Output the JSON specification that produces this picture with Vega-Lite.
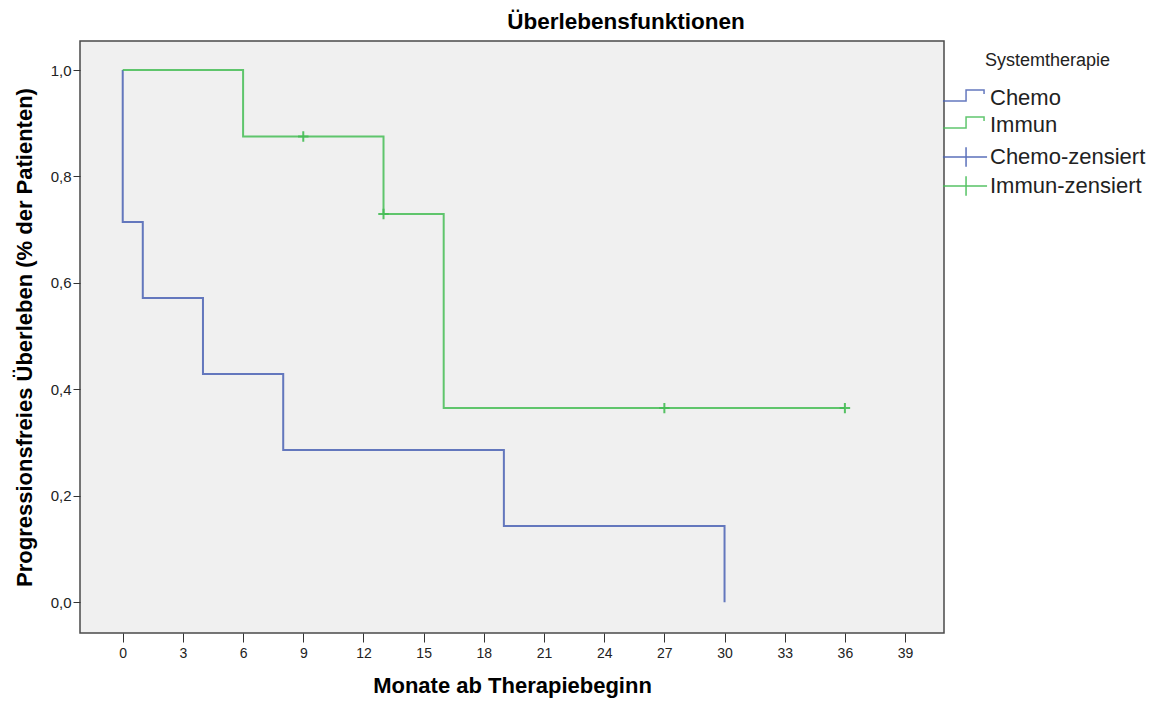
{
  "$schema": "https://vega.github.io/schema/vega-lite/v6.json",
  "autosize": "none",
  "width": 864,
  "height": 592,
  "padding": {"left": 80, "top": 41, "right": 213, "bottom": 69},
  "background": "white",
  "config": {
    "font": "Liberation Sans",
    "view": {"fill": "#f0f0f0", "stroke": "#4a4a4a", "strokeWidth": 1.5},
    "axis": {"grid": false, "domain": false, "tickColor": "#333333", "labelColor": "#222222", "titleColor": "#000000", "labelFont": "Liberation Sans", "titleFont": "Liberation Sans"},
    "legend": {
      "titleFont": "Liberation Sans",
      "titleFontSize": 18,
      "titleFontWeight": "normal",
      "titleColor": "#222222",
      "labelFont": "Liberation Sans",
      "labelFontSize": 22,
      "labelColor": "#222222",
      "labelOffset": -27,
      "symbolSize": 900,
      "symbolStrokeWidth": 1.5,
      "symbolFillColor": "transparent",
      "rowPadding": 0
    }
  },
  "title": {
    "text": "Überlebensfunktionen",
    "fontSize": 22.5,
    "fontWeight": "bold",
    "font": "Liberation Sans",
    "color": "#000000",
    "anchor": "middle",
    "dx": 114,
    "offset": 8
  },
  "datasets": {
    "curves": [
      {"entry": "Chemo", "i": 0, "monat": 0, "ueberleben": 1.0},
      {"entry": "Chemo", "i": 1, "monat": 0, "ueberleben": 0.7143},
      {"entry": "Chemo", "i": 2, "monat": 1, "ueberleben": 0.5714},
      {"entry": "Chemo", "i": 3, "monat": 4, "ueberleben": 0.4286},
      {"entry": "Chemo", "i": 4, "monat": 8, "ueberleben": 0.2857},
      {"entry": "Chemo", "i": 5, "monat": 19, "ueberleben": 0.1429},
      {"entry": "Chemo", "i": 6, "monat": 30, "ueberleben": 0.0},
      {"entry": "Immun", "i": 0, "monat": 0, "ueberleben": 1.0},
      {"entry": "Immun", "i": 1, "monat": 6, "ueberleben": 0.875},
      {"entry": "Immun", "i": 2, "monat": 13, "ueberleben": 0.7292},
      {"entry": "Immun", "i": 3, "monat": 16, "ueberleben": 0.3646},
      {"entry": "Immun", "i": 4, "monat": 36, "ueberleben": 0.3646}
    ],
    "censored": [
      {"entry": "Immun-zensiert", "monat": 9, "ueberleben": 0.875},
      {"entry": "Immun-zensiert", "monat": 13, "ueberleben": 0.7292},
      {"entry": "Immun-zensiert", "monat": 27, "ueberleben": 0.3646},
      {"entry": "Immun-zensiert", "monat": 36, "ueberleben": 0.3646}
    ]
  },
  "encoding": {
    "x": {
      "field": "monat",
      "type": "quantitative",
      "scale": {"domain": [-2.13, 40.94], "nice": false, "zero": false},
      "axis": {
        "title": "Monate ab Therapiebeginn",
        "values": [0, 3, 6, 9, 12, 15, 18, 21, 24, 27, 30, 33, 36, 39],
        "tickSize": 9,
        "labelPadding": 4,
        "labelFontSize": 14,
        "titleFontSize": 22,
        "titleFontWeight": "bold",
        "titlePadding": 15
      }
    },
    "y": {
      "field": "ueberleben",
      "type": "quantitative",
      "scale": {"domain": [-0.058, 1.0545], "nice": false, "zero": false},
      "axis": {
        "title": "Progressionsfreies Überleben (% der Patienten)",
        "values": [0, 0.2, 0.4, 0.6, 0.8, 1.0],
        "labelExpr": "replace(format(datum.value, '.1f'), '.', ',')",
        "tickSize": 7,
        "labelPadding": 2,
        "labelFontSize": 15,
        "titleFontSize": 22,
        "titleFontWeight": "bold",
        "titlePadding": 14
      }
    }
  },
  "layer": [
    {
      "data": {"name": "curves"},
      "mark": {"type": "line", "interpolate": "step-after", "strokeWidth": 2, "opacity": 0.85},
      "encoding": {
        "order": {"field": "i", "type": "quantitative"},
        "color": {
          "field": "entry",
          "type": "nominal",
          "scale": {"domain": ["Chemo", "Immun"], "range": ["#4a62b4", "#45bd55"]},
          "legend": {
            "title": "Systemtherapie",
            "orient": "none",
            "legendX": 905,
            "legendY": 11,
            "titlePadding": 12,
            "symbolType": "M-3.87,0.2H-2.33V-0.53H-1.13V-0.27"
          }
        }
      }
    },
    {
      "data": {"name": "censored"},
      "mark": {"type": "point", "filled": false, "shape": "M-1,0H1M0,-1V1", "size": 110, "strokeWidth": 2, "opacity": 0.9},
      "encoding": {
        "stroke": {
          "field": "entry",
          "type": "nominal",
          "scale": {"domain": ["Chemo-zensiert", "Immun-zensiert"], "range": ["#4a62b4", "#45bd55"]},
          "legend": {
            "title": null,
            "orient": "none",
            "legendX": 905,
            "legendY": 100,
            "symbolType": "M-3.87,0H-0.93M-2.33,-0.65V0.65"
          }
        }
      }
    }
  ]
}
